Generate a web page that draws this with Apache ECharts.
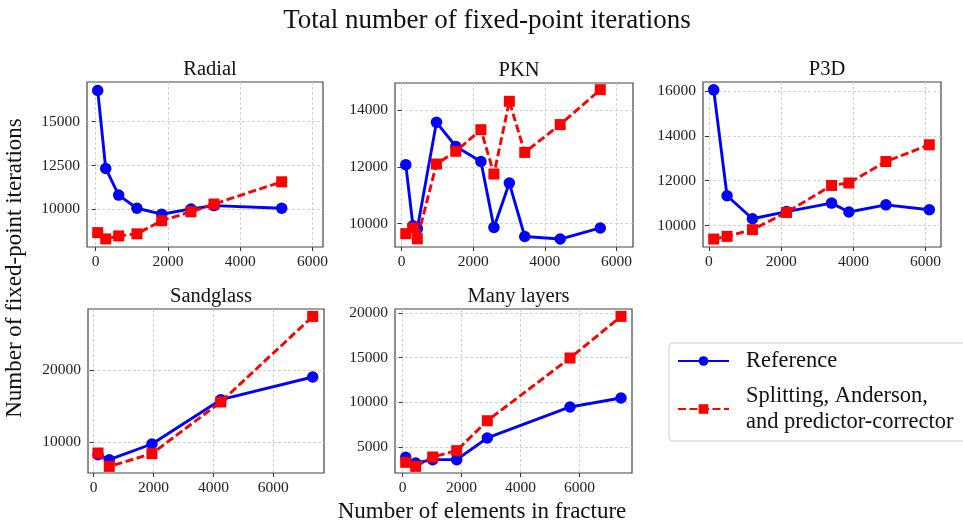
<!DOCTYPE html>
<html>
<head>
<meta charset="utf-8">
<script src="https://cdn.jsdelivr.net/npm/echarts@6/dist/echarts.min.js"></script>
<style>
  html, body { margin: 0; padding: 0; background: #fff; }
  #chart { width: 963px; height: 527px; }
</style>
</head>
<body>
<div id="chart"></div>
<script>
// Number of elements in the fracture mesh, per geometry
const radialX = [55, 277, 635, 1140, 1826, 2636, 3272, 5145];
const radialRef = [16780, 12330, 10810, 10060, 9720, 10020, 10210, 10060];
const radialSplit = [8670, 8310, 8480, 8600, 9350, 9860, 10300, 11570];

const pknX = [118, 318, 440, 975, 1515, 2216, 2580, 3010, 3440, 4430, 5550];
const pknRef = [12080, 9930, 9820, 13570, 12720, 12190, 9870, 11430, 9550, 9460, 9850];
const pknSplit = [9650, 9850, 9470, 12100, 12550, 13310, 11750, 14310, 12510, 13490, 14720];

const p3dX = [130, 500, 1204, 2147, 3395, 3875, 4901, 6103];
const p3dRef = [16070, 11330, 10300, 10620, 11000, 10600, 10920, 10700];
const p3dSplit = [9390, 9510, 9810, 10580, 11790, 11900, 12860, 13610];

const sandX = [147, 523, 1947, 4247, 7313];
const sandRef = [8240, 7540, 9720, 15880, 19030];
const sandSplit = [8470, 6610, 8380, 15560, 27440];

const manyX = [102, 441, 1019, 1834, 2873, 5681, 7413];
const manyRef = [3840, 3210, 3580, 3580, 6010, 9480, 10490];
const manySplit = [3280, 2830, 3880, 4590, 7940, 14960, 19620];

// Tick values
const xTicks = [0, 2000, 4000, 6000];
const radialYTicks = [10000, 12500, 15000];
const pknYTicks = [10000, 12000, 14000];
const p3dYTicks = [10000, 12000, 14000, 16000];
const sandYTicks = [10000, 20000];
const manyYTicks = [5000, 10000, 15000, 20000];

const refName = 'Reference';
const splitName = 'Splitting, Anderson,\nand predictor-corrector';

const FONT = 'Liberation Serif';

const panels = [
  { title: 'Radial', x: radialX, ref: radialRef, split: radialSplit, yTicks: radialYTicks,
    grid: { left: 87, top: 82, width: 236, height: 165 }, xRange: [-241, 6288], yRange: [7848, 17266] },
  { title: 'PKN', x: pknX, ref: pknRef, split: pknSplit, yTicks: pknYTicks,
    grid: { left: 395, top: 83, width: 238, height: 164 }, xRange: [-183, 6463], yRange: [9180, 14954] },
  { title: 'P3D', x: p3dX, ref: p3dRef, split: p3dSplit, yTicks: p3dYTicks,
    grid: { left: 703, top: 82, width: 238, height: 165 }, xRange: [-166, 6427], yRange: [9034, 16421] },
  { title: 'Sandglass', x: sandX, ref: sandRef, split: sandSplit, yTicks: sandYTicks,
    grid: { left: 88, top: 309, width: 236, height: 164 }, xRange: [-187, 7690], yRange: [5694, 28472] },
  { title: 'Many layers', x: manyX, ref: manyRef, split: manySplit, yTicks: manyYTicks,
    grid: { left: 395, top: 309, width: 237, height: 164 }, xRange: [-261, 7786], yRange: [2088, 20448] }
];

const zip = (xs, ys) => xs.map((v, i) => [v, ys[i]]);
const plain = v => String(v);

const grid = [], xAxis = [], yAxis = [], series = [], titles = [];

titles.push({
  text: 'Total number of fixed-point iterations',
  left: 482, top: 2, textAlign: 'center',
  textStyle: { fontFamily: FONT, fontSize: 27, fontWeight: 'normal', color: '#111' }
});

const tickCommon = { show: true, inside: false, length: 4, lineStyle: { color: '#333', width: 1 } };
const labelCommon = { fontFamily: FONT, fontSize: 15.5, color: '#222', formatter: plain };
const splitCommon = { show: true, lineStyle: { color: '#c8c8c8', type: [3, 2], width: 0.8 } };

panels.forEach((p, i) => {
  grid.push(Object.assign({ show: true, borderColor: '#444', borderWidth: 1.2, backgroundColor: 'transparent' }, p.grid));
  titles.push({
    text: p.title,
    left: p.grid.left + p.grid.width / 2,
    top: p.grid.top - 28,
    textAlign: 'center',
    textStyle: { fontFamily: FONT, fontSize: 20.5, fontWeight: 'normal', color: '#111' }
  });
  xAxis.push({
    type: 'value', gridIndex: i, min: p.xRange[0], max: p.xRange[1],
    axisLine: { show: false },
    axisTick: Object.assign({ customValues: xTicks }, tickCommon),
    axisLabel: Object.assign({ customValues: xTicks, margin: 7 }, labelCommon),
    splitLine: splitCommon
  });
  yAxis.push({
    type: 'value', gridIndex: i, min: p.yRange[0], max: p.yRange[1],
    axisLine: { show: false },
    axisTick: Object.assign({ customValues: p.yTicks }, tickCommon),
    axisLabel: Object.assign({ customValues: p.yTicks, margin: 7 }, labelCommon),
    splitLine: splitCommon
  });
  series.push({
    name: refName, type: 'line', xAxisIndex: i, yAxisIndex: i,
    data: zip(p.x, p.ref),
    symbol: 'circle', symbolSize: 11.5,
    lineStyle: { color: '#0000ff', width: 2.9 },
    itemStyle: { color: '#0000ff' },
    animation: false, z: 2
  });
  series.push({
    name: splitName, type: 'line', xAxisIndex: i, yAxisIndex: i,
    data: zip(p.x, p.split),
    symbol: 'rect', symbolSize: 11,
    lineStyle: { color: '#ff0000', width: 2.9, type: [8, 3.5] },
    itemStyle: { color: '#ff0000' },
    animation: false, z: 3
  });
});

const chart = echarts.init(document.getElementById('chart'), null, { renderer: 'canvas' });
chart.setOption({
  backgroundColor: '#fff',
  animation: false,
  title: titles,
  grid, xAxis, yAxis, series,
  legend: {
    data: [refName, splitName],
    orient: 'vertical',
    left: 669, top: 343,
    padding: [5, 40, 6, 8],
    itemGap: 9,
    itemWidth: 51, itemHeight: 12,
    borderColor: '#d0d0d0', borderWidth: 1, borderRadius: 4,
    textStyle: { fontFamily: FONT, fontSize: 22.5, color: '#111', lineHeight: 26, padding: [0, 0, 0, 12] }
  },
  graphic: [
    {
      type: 'text', x: 15, y: 268, rotation: Math.PI / 2,
      style: { text: 'Number of fixed-point iterations', font: '23px "' + FONT + '"', fill: '#111', align: 'center', verticalAlign: 'middle' }
    },
    {
      type: 'text', x: 482, y: 512,
      style: { text: 'Number of elements in fracture', font: '23px "' + FONT + '"', fill: '#111', align: 'center', verticalAlign: 'middle' }
    }
  ]
});
</script>
</body>
</html>
